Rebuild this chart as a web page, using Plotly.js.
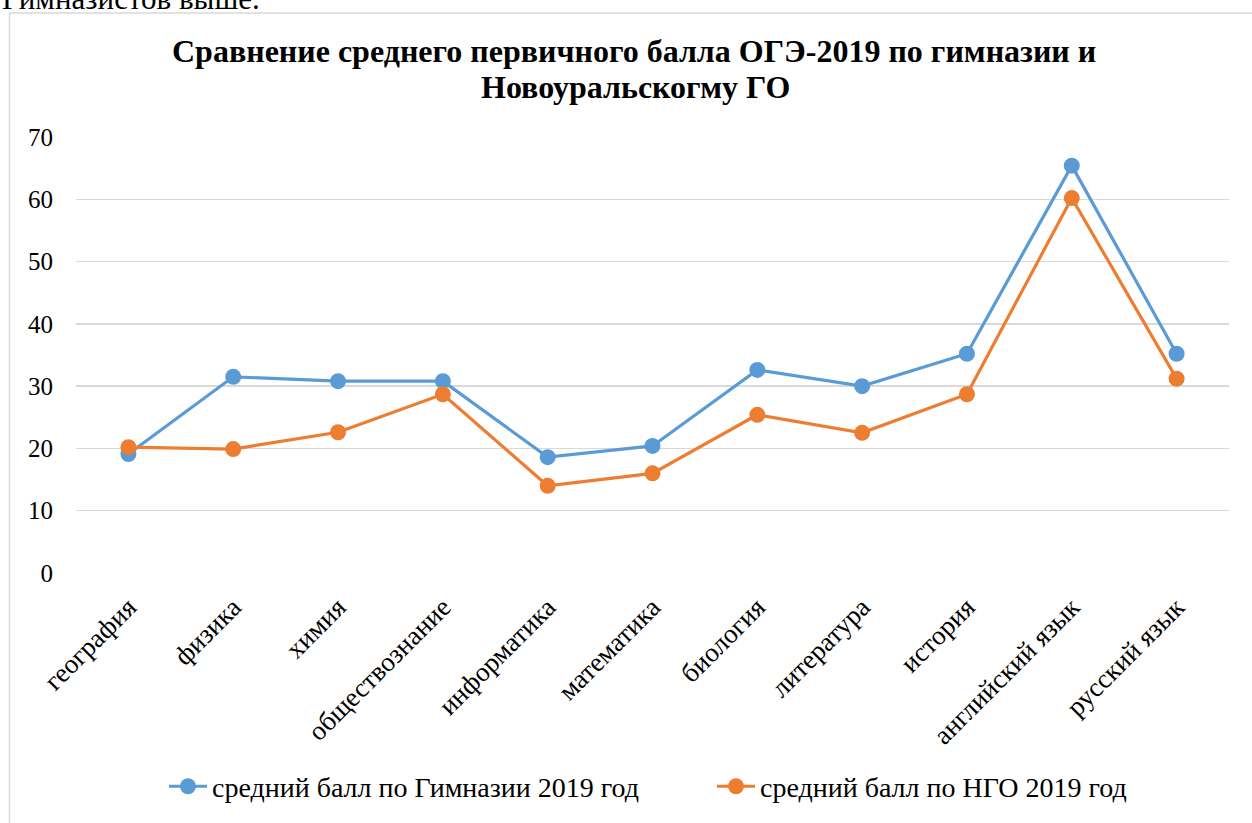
<!DOCTYPE html>
<html>
<head>
<meta charset="utf-8">
<script src="https://cdn.plot.ly/plotly-3.0.1.min.js"></script>
<style>
html,body{margin:0;padding:0;background:#fff;}
#chart{width:1252px;height:823px;}
</style>
</head>
<body>
<div id="chart"></div>
<script>
const categories = ["география","физика","химия","обществознание","информатика","математика","биология","литература","история","английский язык","русский язык"];
const gymnasium2019 = [19.1, 31.5, 30.8, 30.8, 18.6, 20.4, 32.6, 30.0, 35.2, 65.4, 35.2];
const ngo2019 = [20.2, 19.9, 22.6, 28.7, 14.0, 16.0, 25.4, 22.5, 28.7, 60.2, 31.2];
const seriesNames = ["средний балл по Гимназии 2019 год", "средний балл по НГО 2019 год"];
const titleLines = ["Сравнение среднего первичного балла ОГЭ-2019 по гимназии и", "Новоуральскогму ГО"];
const yTicks = [0,10,20,30,40,50,60,70];

const serif = "Liberation Serif, Times New Roman, serif";
const blue = "#5B9BD5", orange = "#ED7D31";

const traces = [
  {x: categories, y: gymnasium2019, name: seriesNames[0], type: "scatter", mode: "lines+markers",
   line: {color: blue, width: 3.2}, marker: {color: blue, size: 16}, legend: "legend"},
  {x: categories, y: ngo2019, name: seriesNames[1], type: "scatter", mode: "lines+markers",
   line: {color: orange, width: 3.2}, marker: {color: orange, size: 16}, legend: "legend2"}
];

const legendBase = {
  orientation: "h", yanchor: "middle", y: (578-794)/441, xanchor: "left",
  font: {family: serif, size: 28, color: "#000"}, itemwidth: 38,
  bgcolor: "rgba(0,0,0,0)"
};

const titleFont = {family: serif, size: 32, weight: "bold", color: "#000"};

const layout = {
  width: 1252, height: 823,
  margin: {l: 76, r: 23, t: 137, b: 245},
  paper_bgcolor: "#fff", plot_bgcolor: "#fff",
  font: {family: serif, size: 23, color: "#000"},
  xaxis: {
    type: "category", range: [-0.5, 10.5], tickangle: -45,
    showgrid: false, showline: false, zeroline: false, ticks: "",
    ticklabelstandoff: 12,
    tickfont: {family: serif, size: 27, color: "#000"}, fixedrange: true
  },
  yaxis: {
    range: [0, 70], tickvals: yTicks, ticktext: yTicks.map(String),
    showgrid: true, gridcolor: "#d9d9d9", gridwidth: 1.5,
    zeroline: false, showline: false, ticks: "",
    ticklabelstandoff: 22,
    tickfont: {family: serif, size: 25, color: "#000"}, fixedrange: true
  },
  showlegend: true,
  legend: Object.assign({}, legendBase, {x: (164-76)/1153}),
  legend2: Object.assign({}, legendBase, {x: (712-76)/1153}),
  shapes: [
    {type: "rect", xref: "paper", yref: "paper",
     x0: (9.5-76)/1153, x1: 1.2, y0: -1, y1: (578-11.5)/441,
     line: {color: "#d9d9d9", width: 1.5}, fillcolor: "rgba(0,0,0,0)", layer: "below"}
  ],
  annotations: [
    {text: "Гимназистов выше.", xref: "paper", yref: "paper",
     x: (0-76)/1153, xanchor: "left", y: (578+3)/441, yanchor: "middle",
     showarrow: false, font: {family: serif, size: 31, color: "#000"}},
    {text: titleLines[0], xref: "paper", yref: "paper",
     x: (633.5-76)/1153, xanchor: "center", y: (578-50.5)/441, yanchor: "middle",
     showarrow: false, font: titleFont},
    {text: titleLines[1], xref: "paper", yref: "paper",
     x: (635-76)/1153, xanchor: "center", y: (578-86)/441, yanchor: "middle",
     showarrow: false, font: titleFont}
  ]
};

Plotly.newPlot("chart", traces, layout, {displayModeBar: false, staticPlot: true});
</script>
</body>
</html>
